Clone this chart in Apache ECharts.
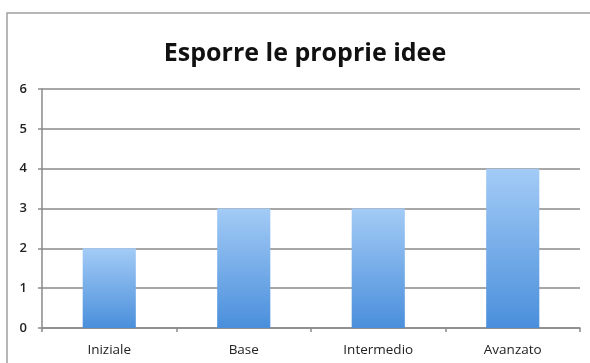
<!DOCTYPE html>
<html>
<head>
<meta charset="utf-8">
<script src="https://cdn.jsdelivr.net/npm/echarts@6/dist/echarts.min.js"></script>
<style>
  html, body { margin: 0; padding: 0; background: #fff; }
  #chart { width: 590px; height: 363px; }
</style>
</head>
<body>
<div id="chart"></div>
<script>
// Livelli di competenza e numero di risposte per ciascuno
const categories = ['Iniziale', 'Base', 'Intermedio', 'Avanzato'];
const values = [2, 3, 3, 4];
const yTicks = [0, 1, 2, 3, 4, 5, 6];
const chartTitle = 'Esporre le proprie idee';

const chart = echarts.init(document.getElementById('chart'), null, { renderer: 'canvas' });

const labelFont = '"Open Sans", "Liberation Sans", sans-serif';

chart.setOption({
  backgroundColor: '#ffffff',
  animation: false,
  title: {
    text: chartTitle,
    left: 300,
    textAlign: 'center',
    top: 36,
    textStyle: {
      fontFamily: labelFont,
      fontWeight: 'bold',
      fontSize: 25,
      color: '#111'
    }
  },
  graphic: [{
    type: 'rect',
    shape: { x: 7, y: 13, width: 620, height: 400 },
    style: { fill: 'none', stroke: '#a0a0a0', lineWidth: 1.5 },
    silent: true,
    z: -1
  }],
  grid: { left: 42, right: 10, top: 89, bottom: 35, containLabel: false },
  xAxis: {
    type: 'category',
    data: categories,
    boundaryGap: true,
    axisLine: { lineStyle: { color: '#8a8a8a', width: 1.5 } },
    axisTick: { show: true, length: 4, lineStyle: { color: '#8a8a8a', width: 1.5 } },
    axisLabel: { fontFamily: labelFont, fontSize: 13.5, color: '#222', margin: 15 }
  },
  yAxis: {
    type: 'value',
    min: yTicks[0],
    max: yTicks[yTicks.length - 1],
    interval: 1,
    axisLine: { show: true, lineStyle: { color: '#8a8a8a', width: 1.5 } },
    axisTick: { show: true, length: 4, lineStyle: { color: '#8a8a8a', width: 1.5 } },
    axisLabel: { fontFamily: labelFont, fontSize: 13, fontWeight: 600, color: '#222', margin: 15 },
    splitLine: { show: true, lineStyle: { color: '#8a8a8a', width: 1.5 } }
  },
  series: [{
    type: 'bar',
    data: values,
    barWidth: '39.5%',
    itemStyle: {
      color: new echarts.graphic.LinearGradient(0, 0, 0, 1, [
        { offset: 0, color: '#a3cbf6' },
        { offset: 1, color: '#4a8fdb' }
      ])
    }
  }]
});
</script>
</body>
</html>
